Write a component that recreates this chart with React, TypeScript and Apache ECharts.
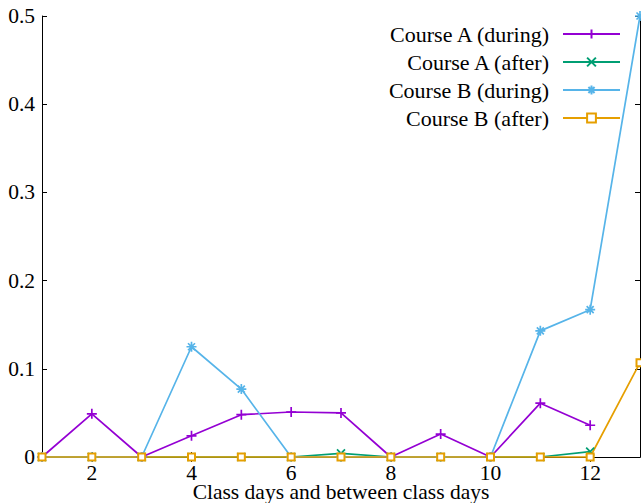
import React, { useEffect, useRef } from "react";
import * as echarts from "echarts";

const xDays = [1, 2, 3, 4, 5, 6, 7, 8, 9, 10, 11, 12, 13];
const courseADuring = [0, 0.049, 0, 0.024, 0.048, 0.051, 0.05, 0, 0.026, 0, 0.061, 0.036];
const courseAAfter = [0, 0, 0, 0, 0, 0, 0.004, 0, 0, 0, 0, 0.006];
const courseBDuring = [0, 0, 0, 0.125, 0.077, 0, 0, 0, 0, 0, 0.143, 0.167, 0.5];
const courseBAfter = [0, 0, 0, 0, 0, 0, 0, 0, 0, 0, 0, 0, 0.107];
const xTickValues = [2, 4, 6, 8, 10, 12];
const seriesNames = ["Course A (during)", "Course A (after)", "Course B (during)", "Course B (after)"];
const colors = ["#9400d3", "#009e73", "#56b4e9", "#e69f00"];
const xTitle = "Class days and between class days";

const FONT = "Liberation Serif, serif";
const FS = 21.5;

const PLUS = "path://M5,0V10M0,5H10";
const CROSS = "path://M1,1L9,9M1,9L9,1";
const STAR = "path://M5,0V10M0,5H10M1.5,1.5L8.5,8.5M1.5,8.5L8.5,1.5";

export default function App() {
  const ref = useRef<HTMLDivElement>(null);
  useEffect(() => {
    if (!ref.current) return;
    const chart = echarts.init(ref.current, null, { renderer: "svg" });
    const mk = (vals: number[]) => vals.map((v, i) => [xDays[i], v]);
    const symbols = [PLUS, CROSS, STAR, "emptyRect"];
    const sizes = [10, 8, 10, 7];
    const datas = [courseADuring, courseAAfter, courseBDuring, courseBAfter];
    const series = seriesNames.map((name, i) => ({
      name,
      type: "line",
      data: mk(datas[i]),
      symbol: symbols[i],
      symbolSize: sizes[i],
      showAllSymbol: true,
      clip: false,
      lineStyle: { color: colors[i], width: 1.7 },
      itemStyle: { color: colors[i], borderColor: colors[i], borderWidth: 1.7 },
      emphasis: { disabled: true },
    }));
    chart.setOption({
      animation: false,
      backgroundColor: "#fff",
      textStyle: { fontFamily: FONT },
      grid: { left: 42, right: 1, top: 16, bottom: 46, containLabel: false, outerBoundsMode: "none" },
      legend: {
        orient: "vertical",
        right: 20,
        top: 23,
        padding: 0,
        align: "right",
        itemGap: 6,
        itemWidth: 57,
        itemHeight: 11,
        textStyle: {
          fontFamily: FONT,
          fontSize: 22,
          color: "#000",
          width: 175,
          align: "right",
          lineHeight: 22,
          padding: [0, 9, 0, 0],
        },
        data: seriesNames,
      },
      xAxis: [
        {
          type: "value",
          min: 1,
          max: 13,
          position: "bottom",
          name: xTitle,
          nameLocation: "middle",
          nameGap: 35,
          nameMoveOverlap: false,
          nameTextStyle: { fontFamily: FONT, fontSize: FS, color: "#000", verticalAlign: "middle", lineHeight: 18 },
          axisLine: { show: true, lineStyle: { color: "#000", width: 1 } },
          axisTick: { show: true, inside: true, length: 5, customValues: xTickValues, lineStyle: { color: "#000" } },
          axisLabel: { show: true, customValues: xTickValues, margin: 8, lineHeight: 16, fontFamily: FONT, fontSize: FS, color: "#000" },
          splitLine: { show: false },
        },
        {
          type: "value",
          min: 1,
          max: 13,
          position: "top",
          axisLine: { show: true, lineStyle: { color: "#000", width: 1 } },
          axisTick: { show: true, inside: true, length: 5, customValues: xTickValues, lineStyle: { color: "#000" } },
          axisLabel: { show: false },
          splitLine: { show: false },
        },
      ],
      yAxis: [
        {
          type: "value",
          min: 0,
          max: 0.5,
          interval: 0.1,
          position: "left",
          axisLine: { show: true, lineStyle: { color: "#000", width: 1 } },
          axisTick: { show: true, inside: true, length: 5, lineStyle: { color: "#000" } },
          axisLabel: { margin: 7, fontFamily: FONT, fontSize: FS, color: "#000" },
          splitLine: { show: false },
        },
        {
          type: "value",
          min: 0,
          max: 0.5,
          interval: 0.1,
          position: "right",
          axisLine: { show: true, lineStyle: { color: "#000", width: 1 } },
          axisTick: { show: true, inside: true, length: 5, lineStyle: { color: "#000" } },
          axisLabel: { show: false },
          splitLine: { show: false },
        },
      ],
      series,
    });
    return () => chart.dispose();
  }, []);
  return (
    <div
      ref={ref}
      style={{ position: "absolute", left: 0, top: 0, width: 641, height: 503 }}
    />
  );
}
